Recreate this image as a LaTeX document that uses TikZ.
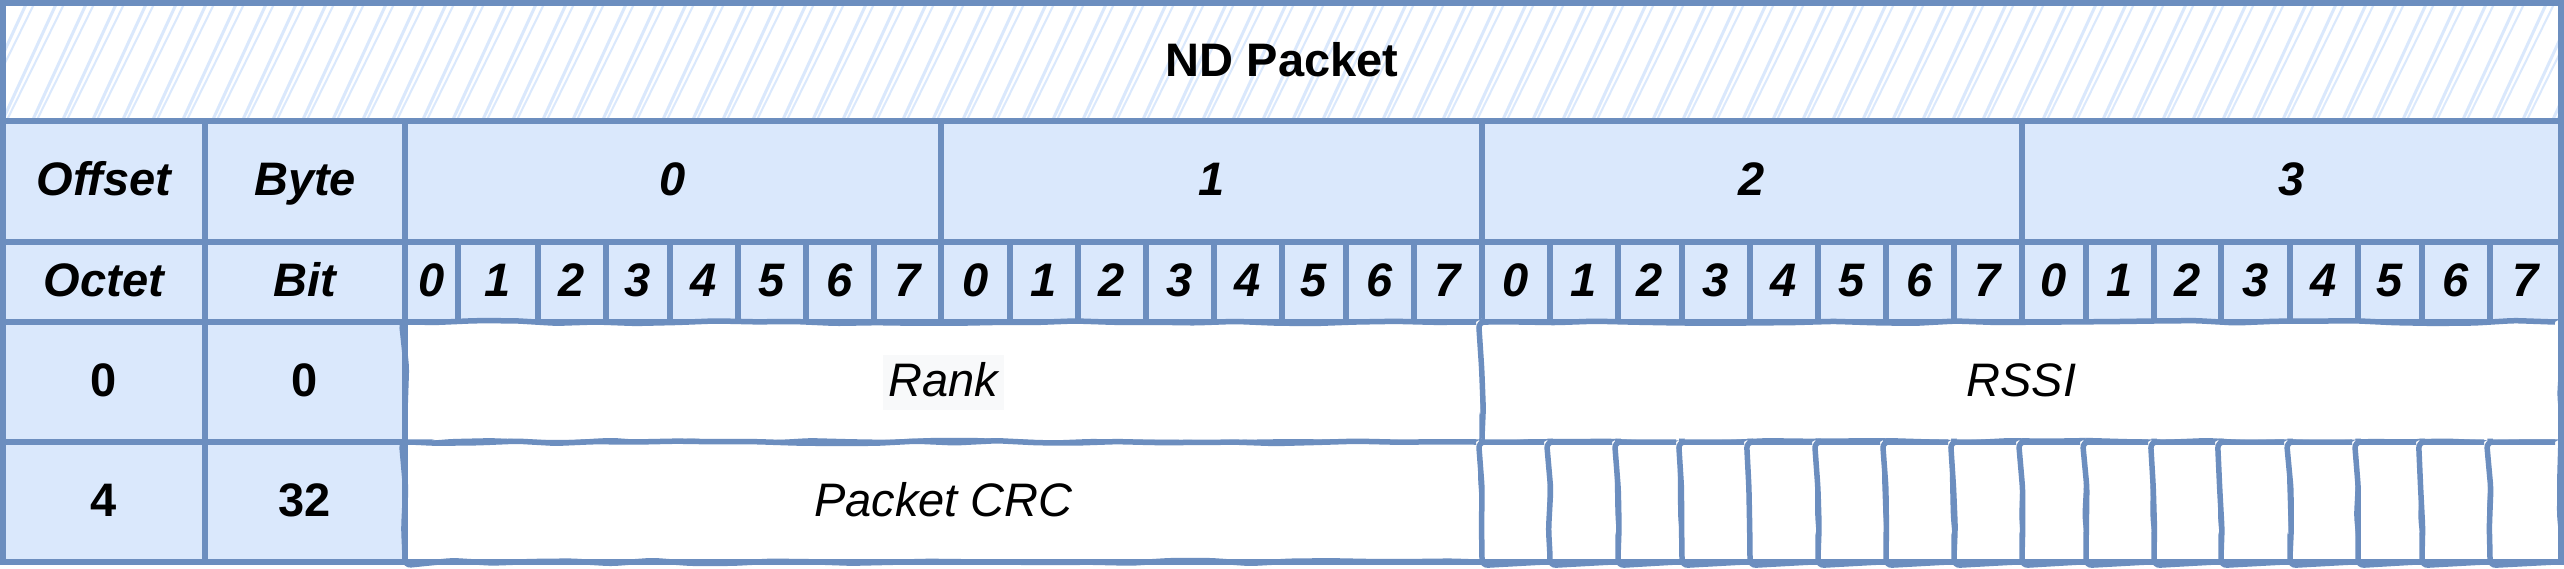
\documentclass[tikz,border=0pt]{standalone}
\usepackage{fontspec}
\setmainfont{Liberation Sans}
\usetikzlibrary{decorations.pathmorphing}
\definecolor{cellstroke}{HTML}{6C8EBF}
\definecolor{cellfill}{HTML}{DAE8FC}
\definecolor{hlgray}{HTML}{F8F9FA}
\newcommand{\mkcell}[7]{%
  \node[#6, minimum width={(#4-#2)*1pt}, minimum height={(#5-#3)*1pt}] (#1) at ({(#2+#4)/2},{(#3+#5)/2}) {#7};}
\tikzset{
  cellbase/.style={draw=cellstroke, line width=5.5pt, inner sep=0pt, text height=34pt, text depth=6pt, font=\fontsize{47}{56}\selectfont},
  bluecell/.style={cellbase, fill=cellfill},
  hdrcell/.style={bluecell, font=\fontsize{47}{56}\selectfont\bfseries\itshape},
  idxcell/.style={bluecell, font=\fontsize{47}{56}\selectfont\bfseries},
  whitecell/.style={cellbase, fill=white, font=\fontsize{47}{56}\selectfont\itshape,
     decorate, decoration={random steps, segment length=40pt, amplitude=1.5pt}, rounded corners=6pt},
  hatchline/.style={draw=cellfill, line width=3pt},
  hatchthin/.style={draw=cellfill, line width=2pt},
  titlecell/.style={draw=cellstroke, line width=5.5pt, inner sep=0pt, text height=34pt, text depth=6pt, font=\fontsize{47}{56}\selectfont\bfseries},
  hlbox/.style={fill=hlgray, inner xsep=6pt, inner ysep=0pt, minimum height=55pt, text height=34pt, text depth=6pt, font=\fontsize{47}{56}\selectfont\itshape},
  outerline/.style={draw=cellstroke, line width=5.5pt}
}
\begin{document}
\begin{tikzpicture}[x=1pt,y=-1pt]
\pgfmathsetseed{7}
\useasboundingbox (0,0) rectangle (2564,568);
% title band with hatching
\fill[white] (3,3) rectangle (2561,121);
\begin{scope}
  \clip (3,3) rectangle (2561,121);
  \foreach \i in {-4,...,88} {
    \draw[hatchline] ({\i*30},126) -- ({\i*30+58},0);
    \draw[hatchthin] ({\i*30+4},126) -- ({\i*30+66},0);
  }
\end{scope}
\mkcell{title}{3}{3}{2561}{121}{titlecell}{ND Packet}
% header row
\mkcell{offset}{3}{121}{205}{242}{hdrcell}{Offset}
\mkcell{byte}{205}{121}{405}{242}{hdrcell}{Byte}
\mkcell{byteA}{405}{121}{941}{242}{hdrcell}{0}
\mkcell{byteB}{941}{121}{1482}{242}{hdrcell}{1}
\mkcell{byteC}{1482}{121}{2022}{242}{hdrcell}{2}
\mkcell{byteD}{2022}{121}{2561}{242}{hdrcell}{3}
% bit row
\mkcell{octet}{3}{242}{205}{322}{hdrcell}{Octet}
\mkcell{bitlbl}{205}{242}{405}{322}{hdrcell}{Bit}
\foreach \a/\b [count=\n from 0] in {405/458, 458/538, 538/606, 606/670, 670/738, 738/806, 806/874, 874/941,
  941/1010, 1010/1078, 1078/1146, 1146/1214, 1214/1282, 1282/1346, 1346/1414, 1414/1482,
  1482/1550, 1550/1618, 1618/1682, 1682/1750, 1750/1818, 1818/1886, 1886/1954, 1954/2022,
  2022/2086, 2086/2154, 2154/2221, 2221/2290, 2290/2358, 2358/2422, 2422/2490, 2490/2561} {
  \pgfmathtruncatemacro{\d}{mod(\n,8)}
  \mkcell{bit\n}{\a}{242}{\b}{322}{hdrcell}{\d}
}
% data row 1
\mkcell{octA}{3}{322}{205}{442}{idxcell}{0}
\mkcell{bitA}{205}{322}{405}{442}{idxcell}{0}
\mkcell{rank}{405}{322}{1482}{442}{whitecell}{}
\mkcell{rssi}{1482}{322}{2561}{442}{whitecell}{RSSI}
\node[hlbox] (ranklbl) at (rank.center) {Rank};
% data row 2
\mkcell{octB}{3}{442}{205}{562}{idxcell}{4}
\mkcell{bitB}{205}{442}{405}{562}{idxcell}{32}
\mkcell{crc}{405}{442}{1482}{562}{whitecell}{Packet CRC}
\foreach \a/\b [count=\n from 0] in {1482/1550, 1550/1618, 1618/1682, 1682/1750, 1750/1818, 1818/1886, 1886/1954, 1954/2022,
  2022/2086, 2086/2154, 2154/2221, 2221/2290, 2290/2358, 2358/2422, 2422/2490, 2490/2561} {
  \mkcell{pad\n}{\a}{442}{\b}{562}{whitecell}{}
}
% straight outer frame and straight blue/white boundary
\draw[outerline] (3,3) rectangle (2561,562);
\draw[outerline] (405,322) -- (405,562);
\end{tikzpicture}
\end{document}
